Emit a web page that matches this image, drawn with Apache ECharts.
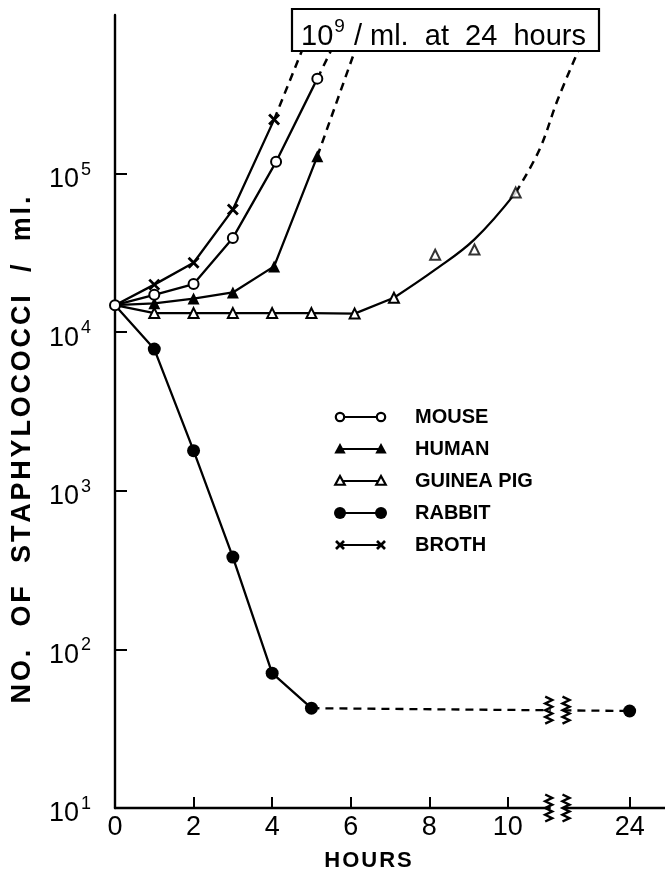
<!DOCTYPE html>
<html>
<head>
<meta charset="utf-8">
<script src="https://cdn.jsdelivr.net/npm/echarts@6/dist/echarts.min.js"></script>
<style>
html,body{margin:0;padding:0;background:#fff;}
#chart{width:665px;height:879px;}
</style>
</head>
<body>
<div id="chart"></div>
<script>
// ---------- data ----------
const seriesNames = ['MOUSE', 'HUMAN', 'GUINEA PIG', 'RABBIT', 'BROTH'];

const mouseHours  = [0, 1, 2, 3, 4.1, 5.15];
const mouseValues = [14800, 17200, 20100, 39300, 118600, 397000];
const mouseExtHours  = [5.15, 5.5];
const mouseExtValues = [397000, 597000];

const humanHours  = [0, 1, 2, 3, 4.05, 5.15];
const humanValues = [14800, 15200, 16300, 17800, 26000, 128500];
const humanExtHours  = [5.15, 6.1];
const humanExtValues = [128500, 589000];

const guineaHours  = [0, 1, 2, 3, 4, 5, 6.1, 7.1];
const guineaValues = [14800, 13200, 13200, 13200, 13200, 13200, 13100, 16500];
const guineaLateHours  = [8.15, 9.15, 10.2];
const guineaLateValues = [30800, 33200, 75900];
const guineaCurveHours  = [7.1, 8.15, 9.15, 10.2];
const guineaCurveValues = [16500, 24800, 38500, 75900];
const guineaExtHours  = [10.2, 10.8, 11.27, 11.8];
const guineaExtValues = [75900, 141000, 293000, 600000];

const rabbitHours  = [0, 1, 2, 3, 4, 5];
const rabbitValues = [14800, 7830, 1790, 382, 70.8, 42.6];
const rabbitExtHours  = [5, 24];
const rabbitExtValues = [42.6, 40.9];

const brothHours  = [0, 1, 2, 3, 4.05];
const brothValues = [14800, 19950, 27400, 59300, 219000];
const brothExtHours  = [4.05, 4.75];
const brothExtValues = [219000, 589000];

const xTickHours = [0, 2, 4, 6, 8, 10, 24];
const yTickValues = [10, 100, 1000, 10000, 100000];
const xAxisTitle = 'HOURS';
const yAxisTitle = 'NO. OF STAPHYLOCOCCI / ml.';
const boxNote = ['10', '9', ' / ml.  at  24  hours'];
const breakHours = [11.04, 11.48];

// ---------- helpers ----------
const POS_24 = 13.1;            // where the 24 h mark sits after the axis break
const pos = h => (h > 12 ? POS_24 : h);
const zip = (xs, ys) => xs.map((x, i) => [pos(x), ys[i]]);
const noFirstSymbol = arr => arr.map((p, i) => (i === 0 ? { value: p, symbol: 'none' } : p));
// letter-spaced rich text
const spaced = s => s.split('').map(ch => (ch === ' ' ? '{w| }' : '{c|' + ch + '}')).join('');

const FONT = 'Liberation Sans';
const BLACK = '#000';
const X_PATH = 'path://M0,0L10,10M10,0L0,10';

const solid = { color: BLACK, width: 2.3 };
const dashed = { color: BLACK, width: 2.5, type: [8, 6] };

const chart = echarts.init(document.getElementById('chart'), null, { renderer: 'canvas' });

const option = {
  animation: false,
  backgroundColor: '#fff',
  grid: { left: 115, top: 15, width: 550, height: 793, containLabel: false, outerBoundsMode: 'none' },
  xAxis: {
    type: 'value', min: 0, max: 14,
    name: spaced(xAxisTitle), nameLocation: 'middle', nameGap: 42,
    nameTextStyle: { padding: [0, 44, 0, 0],
      rich: { c: { fontFamily: FONT, fontSize: 22, fontWeight: 'bold', color: BLACK, padding: [0, 1, 0, 1] } } },
    axisLine: { show: true, lineStyle: { color: BLACK, width: 2.4 } },
    axisTick: { show: true, inside: true, length: 11, lineStyle: { color: BLACK, width: 2 },
      customValues: xTickHours.filter(h => h > 0).map(pos) },
    axisLabel: { show: true, margin: 6, fontFamily: FONT, fontSize: 27, color: BLACK,
      customValues: xTickHours.map(pos),
      formatter: v => String(xTickHours.find(h => Math.abs(pos(h) - v) < 1e-6)) },
    splitLine: { show: false }
  },
  yAxis: {
    type: 'log', logBase: 10, min: 10, max: 1000000,
    name: spaced(yAxisTitle), nameLocation: 'middle', nameGap: 79, nameRotate: 90,
    nameTextStyle: { padding: [0, 77, 0, 0],
      rich: {
        c: { fontFamily: FONT, fontSize: 27, fontWeight: 'bold', color: BLACK, padding: [0, 1.4, 0, 1.4] },
        w: { fontFamily: FONT, fontSize: 27, color: BLACK, padding: [0, 6.5, 0, 6.5] }
      } },
    axisLine: { show: true, lineStyle: { color: BLACK, width: 2.4 } },
    axisTick: { show: true, inside: true, length: 12, lineStyle: { color: BLACK, width: 2 },
      customValues: yTickValues.slice(1) },
    axisLabel: { show: true, margin: 24, color: BLACK,
      customValues: yTickValues,
      formatter: v => '{b|10}{s|' + Math.round(Math.log10(v)) + '}',
      rich: {
        b: { fontFamily: FONT, fontSize: 27, color: BLACK, padding: [12, 0, 0, 0] },
        s: { fontFamily: FONT, fontSize: 18, color: BLACK, padding: [0, 0, 8, 2] }
      }
    },
    splitLine: { show: false },
    minorTick: { show: false }
  },
  series: [
    { name: 'MOUSE', type: 'line', data: zip(mouseHours, mouseValues), symbol: 'emptyCircle', symbolSize: 10,
      lineStyle: solid, itemStyle: { color: BLACK, borderColor: BLACK, borderWidth: 2.2 }, z: 5 },
    { name: 'MOUSE ext', type: 'line', data: zip(mouseExtHours, mouseExtValues), symbol: 'none', lineStyle: dashed },

    { name: 'HUMAN', type: 'line', data: noFirstSymbol(zip(humanHours, humanValues)), symbol: 'triangle', symbolSize: 12,
      lineStyle: solid, itemStyle: { color: BLACK } },
    { name: 'HUMAN ext', type: 'line', data: zip(humanExtHours, humanExtValues), symbol: 'none', lineStyle: dashed },

    { name: 'GUINEA PIG', type: 'line', data: noFirstSymbol(zip(guineaHours, guineaValues)), symbol: 'emptyTriangle', symbolSize: 10,
      lineStyle: solid, itemStyle: { color: BLACK, borderColor: BLACK, borderWidth: 2.6 }, z: 4 },
    { name: 'GUINEA PIG late', type: 'scatter', data: zip(guineaLateHours, guineaLateValues), symbol: 'emptyTriangle', symbolSize: 10,
      itemStyle: { color: BLACK, borderColor: BLACK, borderWidth: 2.6 }, z: 6 },
    { name: 'GUINEA PIG curve', type: 'line', data: zip(guineaCurveHours, guineaCurveValues), symbol: 'none', smooth: 0.4,
      lineStyle: solid },
    { name: 'GUINEA PIG ext', type: 'line', data: zip(guineaExtHours, guineaExtValues), symbol: 'none', smooth: 0.4,
      lineStyle: dashed },

    { name: 'RABBIT', type: 'line', data: noFirstSymbol(zip(rabbitHours, rabbitValues)), symbol: 'circle', symbolSize: 13,
      lineStyle: solid, itemStyle: { color: BLACK } },
    { name: 'RABBIT ext', type: 'line', data: noFirstSymbol(zip(rabbitExtHours, rabbitExtValues)), symbol: 'circle', symbolSize: 13,
      lineStyle: { color: BLACK, width: 2.3, type: [8, 6] }, itemStyle: { color: BLACK } },

    { name: 'BROTH', type: 'line', data: noFirstSymbol(zip(brothHours, brothValues)), symbol: X_PATH, symbolSize: 10,
      lineStyle: solid, itemStyle: { color: BLACK, borderColor: BLACK, borderWidth: 2.8 } },
    { name: 'BROTH ext', type: 'line', data: zip(brothExtHours, brothExtValues), symbol: 'none', lineStyle: dashed }
  ]
};

chart.setOption(option);

// ---------- decorations: legend, note box, axis breaks ----------
function legendGraphics() {
  const els = [];
  const x0 = 340, x1 = 381, tx = 415, y0 = 417, gap = 32;
  const tri = (cx, cy, s) => [[cx, cy - s], [cx + s * 0.95, cy + s * 0.75], [cx - s * 0.95, cy + s * 0.75]];
  seriesNames.forEach((name, i) => {
    const y = y0 + i * gap;
    els.push({ type: 'line', shape: { x1: x0, y1: y, x2: x1, y2: y }, style: { stroke: BLACK, lineWidth: 1.8 }, z: 50 });
    [x0, x1].forEach(cx => {
      if (name === 'MOUSE') els.push({ type: 'circle', shape: { cx, cy: y, r: 4.2 }, style: { fill: '#fff', stroke: BLACK, lineWidth: 2.2 }, z: 51 });
      if (name === 'HUMAN') els.push({ type: 'polygon', shape: { points: tri(cx, y, 6) }, style: { fill: BLACK }, z: 51 });
      if (name === 'GUINEA PIG') els.push({ type: 'polygon', shape: { points: tri(cx, y, 5) }, style: { fill: '#fff', stroke: BLACK, lineWidth: 2.2 }, z: 51 });
      if (name === 'RABBIT') els.push({ type: 'circle', shape: { cx, cy: y, r: 6 }, style: { fill: BLACK }, z: 51 });
      if (name === 'BROTH') {
        els.push({ type: 'line', shape: { x1: cx - 4, y1: y - 4, x2: cx + 4, y2: y + 4 }, style: { stroke: BLACK, lineWidth: 2.6 }, z: 51 });
        els.push({ type: 'line', shape: { x1: cx + 4, y1: y - 4, x2: cx - 4, y2: y + 4 }, style: { stroke: BLACK, lineWidth: 2.6 }, z: 51 });
      }
    });
    els.push({ type: 'text', x: tx, y: y, style: { text: name, fontFamily: FONT, fontSize: 20, fontWeight: 'bold', fill: BLACK, verticalAlign: 'middle' }, z: 51 });
  });
  return els;
}

function zigzag(cx, cy, h) {
  const n = 8, pts = [];
  for (let i = 0; i <= n; i++) pts.push([cx + (i % 2 ? 3.5 : -3.5), cy - h / 2 + (i * h) / n]);
  return { type: 'polyline', shape: { points: pts }, style: { stroke: BLACK, lineWidth: 2.4, fill: null }, z: 60 };
}

const g = [];
// note box
g.push({ type: 'rect', shape: { x: 292, y: 9, width: 307, height: 42 }, style: { fill: '#fff', stroke: BLACK, lineWidth: 2.2 }, z: 100 });
g.push({ type: 'text', x: 301, y: 34, z: 101,
  style: { text: '{a|' + boxNote[0] + '}{s|' + boxNote[1] + '}{a|' + boxNote[2] + '}', verticalAlign: 'middle',
    rich: { a: { fontFamily: FONT, fontSize: 29, fill: BLACK, padding: [6, 0, 0, 0] },
            s: { fontFamily: FONT, fontSize: 19, fill: BLACK, padding: [0, 1, 14, 1] } } } });
// legend
legendGraphics().forEach(e => g.push(e));
// axis breaks (on the x axis and on the rabbit dashed line)
const rabbitBreakValue = rabbitExtValues[0] + (rabbitExtValues[1] - rabbitExtValues[0]) * 0.7;
[[10, 27], [rabbitBreakValue, 27]].forEach(([val, h]) => {
  const pa = chart.convertToPixel({ gridIndex: 0 }, [breakHours[0], val]);
  const pb = chart.convertToPixel({ gridIndex: 0 }, [breakHours[1], val]);
  g.push({ type: 'rect', shape: { x: pa[0] + 2, y: pa[1] - 3, width: pb[0] - pa[0] - 4, height: 6 }, style: { fill: '#fff' }, z: 59 });
  g.push(zigzag(pa[0], pa[1], h));
  g.push(zigzag(pb[0], pb[1], h));
});

chart.setOption({ graphic: { elements: g } });
</script>
</body>
</html>
